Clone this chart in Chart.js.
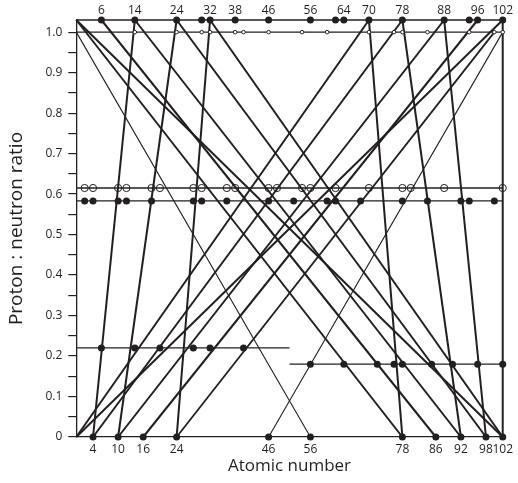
<!DOCTYPE html>
<html><head><meta charset="utf-8">
<script src="https://cdn.jsdelivr.net/npm/chart.js@4/dist/chart.umd.min.js"></script>
<style>html,body{margin:0;padding:0;background:#fff}#wrap{width:518px;height:483px;position:relative}</style>
</head><body><div id="wrap"><canvas id="c"></canvas></div>
<script>
// ---- data ----
const topRatio = 1.03;            // upper row of filled dots
const unitRatio = 1.0;            // row of small open dots
const topDots = [6,14,24,30,32,38,46,56,62,64,70,78,88,94,96,102];
const topLabels = [6,14,24,32,38,46,56,64,70,78,88,96,102];
const unitDots = [14,24,30,32,38,40,46,54,60,70,76,78,84,94,100,102];
const openRatio = 0.615;
const openDots = [2,4,10,12,18,20,28,30,36,38,46,48,54,56,62,70,78,80,88,102];
const filledRatio = 0.583;
const filledDots = [2,4,10,12,18,28,30,36,46,52,60,62,68,78,84,92,94,100];
const leftRatio = 0.22;  const leftSpan = [0,51];
const leftDots = [6,14,20,28,32,40];
const rightRatio = 0.18; const rightSpan = [51,102];
const rightDots = [56,64,72,76,78,85,90,96,102];
const bottomDots = [4,10,16,24,46,56,78,86,92,98,102];
const bottomLabels = ['4','10','16','24','46','56','78','86','92','98','102'];
const yTicks = [0,0.05,0.1,0.15,0.2,0.25,0.3,0.35,0.4,0.45,0.5,0.55,0.6,0.65,0.7,0.75,0.8,0.85,0.9,0.95,1.0];
// thick lines: atomic number at ratio 0 -> atomic number at the top row
const thickFrom = [0,4,10,16,0, 78,86,92,98,102,102, 4,10,24, 98,92,78, 102];
const thickTo   = [70,78,88,96,102, 0,6,14,24,32,0, 14,24,32, 88,78,70, 102];
// lines ending on the 1.0 row
const midFrom = [24];
const midTo   = [100];
// thin lines: atomic number at ratio 0 -> atomic number on the 1.0 row
const thinFrom = [56,46];
const thinTo   = [0,102];

const INK = '#231f20';
const FONT = "'Open Sans', sans-serif";

const datasets = [];
function dots(xs, y, r, fill, bw){
  datasets.push({data: xs.map(x=>({x, y})), showLine:false, pointRadius:r, pointHoverRadius:r,
    pointBackgroundColor:fill, pointBorderColor:INK, pointBorderWidth:bw, order:0, clip:false});
}
function seg(x1,y1,x2,y2,w){
  datasets.push({data:[{x:x1,y:y1},{x:x2,y:y2}], showLine:true, borderColor:INK, borderWidth:w,
    pointRadius:0, pointHoverRadius:0, order:1, clip:false});
}
// horizontal rows
seg(0,topRatio,102,topRatio,1.4);
seg(0,unitRatio,102,unitRatio,1.3);
seg(0,openRatio,102,openRatio,1.3);
seg(0,filledRatio,102,filledRatio,1.3);
seg(leftSpan[0],leftRatio,leftSpan[1],leftRatio,1.3);
seg(rightSpan[0],rightRatio,rightSpan[1],rightRatio,1.3);
thickFrom.forEach((f,i)=>seg(f,0,thickTo[i],topRatio,2));
midFrom.forEach((f,i)=>seg(f,0,midTo[i],unitRatio,1.8));
thinFrom.forEach((f,i)=>seg(f,0,thinTo[i],unitRatio,1.1));
// dots
dots(topDots, topRatio, 3.5, INK, 0);
dots(unitDots, unitRatio, 1.8, '#fff', 1);
dots(openDots, openRatio, 3.6, 'rgba(0,0,0,0)', 1);
dots(filledDots, filledRatio, 3.5, INK, 0);
dots(leftDots, leftRatio, 3.5, INK, 0);
dots(rightDots, rightRatio, 3.5, INK, 0);
dots(bottomDots, 0, 3.5, INK, 0);

new Chart(document.getElementById('c'), {
  type:'scatter',
  data:{datasets},
  options:{
    responsive:true, maintainAspectRatio:false, animation:false,
    events:[],
    layout:{padding:{left:0,right:10.3,top:0,bottom:0}},
    plugins:{legend:{display:false}, tooltip:{enabled:false}},
    scales:{
      x:{type:'linear', position:'bottom', min:0, max:102,
        afterBuildTicks:s=>{ s.ticks = bottomDots.map(v=>({value:v})); },
        afterFit:s=>{ s.height = 46; },
        ticks:{autoSkip:false, maxRotation:0, padding:5, color:INK, font:{family:FONT,size:12},
          callback:(v,i)=>bottomLabels[i]},
        grid:{display:false, drawTicks:false},
        border:{display:true, color:INK, width:1.3},
        title:{display:true, text:'Atomic number', color:INK, font:{family:FONT,size:17}, padding:{top:0,bottom:6.5}}
      },
      x2:{type:'linear', position:'top', min:0, max:102,
        afterBuildTicks:s=>{ s.ticks = topLabels.map(v=>({value:v})); },
        afterFit:s=>{ s.height = 20; },
        ticks:{autoSkip:false, maxRotation:0, padding:2, color:INK, font:{family:FONT,size:12},
          callback:(v)=>String(v)},
        grid:{display:false, drawTicks:false},
        border:{display:false}
      },
      y:{type:'linear', position:'left', min:0, max:topRatio,
        afterBuildTicks:s=>{ s.ticks = yTicks.map(v=>({value:v})); },
        afterFit:s=>{ s.width = 76.3; },
        ticks:{autoSkip:false, padding:6, color:INK, font:{family:FONT,size:12},
          callback:(v)=>{ const k=Math.round(v*100); if(k%10) return ''; return k===0?'0':(k/100).toFixed(1); }},
        grid:{display:true, drawOnChartArea:false, drawTicks:true, tickLength:8, color:INK, lineWidth:1.2},
        border:{display:true, color:INK, width:1.3},
        title:{display:true, text:'Proton : neutron ratio', color:INK, font:{family:FONT,size:19}, padding:{top:5,bottom:0}}
      }
    }
  }
});
</script></body></html>
